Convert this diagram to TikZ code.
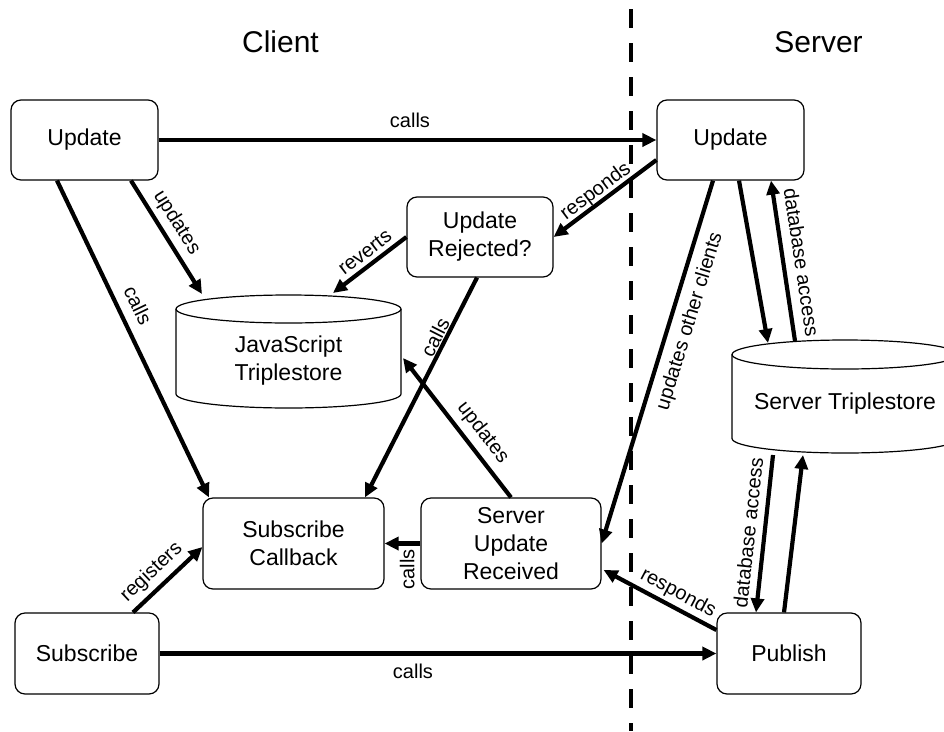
\documentclass[tikz,border=0pt]{standalone}
\usepackage{fontspec}
\setmainfont{Liberation Sans}
\usetikzlibrary{arrows.meta,calc}
\begin{document}
\begin{tikzpicture}[x=1pt,y=-1pt,
  box/.style={draw, line width=1.2pt, rounded corners=10pt, align=center, font=\fontsize{23}{28}\selectfont, inner sep=0pt},
  arr/.style={line width=4.2pt, -{Triangle[length=14pt,width=13pt]}},
  lbl/.style={font=\fontsize{20}{24}\selectfont, outer sep=0pt, sloped},
  vlbl/.style={font=\fontsize{20}{24}\selectfont, outer sep=0pt},
  cyl/.style={line width=1.2pt},
  cyltext/.style={align=center, font=\fontsize{23}{28}\selectfont, inner sep=0pt},
  ttl/.style={font=\fontsize{30}{36}\selectfont}]
\useasboundingbox (0,0) rectangle (944,731);

% titles
\node[ttl] (tclient) at (280.5,42) {Client};
\node[ttl] (tserver) at (818.5,42) {Server};

% divider
\draw[line width=4.5pt, dash pattern=on 19pt off 15pt] (631,9) -- (631,731);

% boxes
\node[box, minimum width=147pt, minimum height=80pt] (cu) at (84.5,140) {Update};
\node[box, minimum width=147pt, minimum height=80pt] (su) at (730.5,140) {Update};
\node[box, minimum width=146pt, minimum height=80pt] (ur) at (480,237) {Update\\Rejected?};
\node[box, minimum width=181pt, minimum height=91pt] (sc) at (293.5,543.5) {Subscribe\\Callback};
\node[box, minimum width=180pt, minimum height=91pt] (sur) at (511,543.5) {Server\\Update\\Received};
\node[box, minimum width=144pt, minimum height=81pt] (sb) at (87,653.5) {Subscribe};
\node[box, minimum width=144pt, minimum height=81pt] (pb) at (789,653.5) {Publish};

% JavaScript triplestore cylinder
\draw[cyl] (176,309) -- (176,394) arc[start angle=180,end angle=360,x radius=112.5pt,y radius=14pt] -- (401,309);
\draw[cyl] (288.5,309) ellipse[x radius=112.5pt,y radius=14pt];
\node[cyltext] (js) at (288.5,361) {JavaScript\\Triplestore};

% Server triplestore cylinder (cut by the right edge)
\begin{scope}
\clip (0,0) rectangle (944,731);
\draw[cyl] (732,354.5) -- (732,438.5) arc[start angle=180,end angle=360,x radius=113pt,y radius=14.5pt] -- (958,354.5);
\draw[cyl] (845,354.5) ellipse[x radius=113pt,y radius=14.5pt];
\end{scope}
\node[cyltext] (st) at (845,404) {Server Triplestore};

% connectors
\draw[arr] (cu.east) -- node[lbl, above, pos=0.505, inner sep=12pt] {calls} (su.west);
\draw[arr] ($(cu.south)+(46.5,0)$) -- node[lbl, above, pos=0.447, inner sep=7pt] {updates} ($(js.center)+(-86.5,-67)$);
\draw[arr] ($(cu.south)+(-27.5,0)$) -- node[lbl, above, pos=0.419, inner sep=12pt] {calls} ($(sc.north)+(-84.5,0)$);
\draw[arr] ($(su.west)+(0,20)$) -- node[lbl, above, pos=0.526, inner sep=1.5pt] {responds} (ur.east);
\draw[arr] (ur.west) -- node[lbl, above, pos=0.458, inner sep=6.5pt] {reverts} ($(js.center)+(44.5,-68)$);
\draw[arr] ($(ur.south)+(-3,0)$) -- node[lbl, above, pos=0.293, inner sep=3pt] {calls} ($(sc.north)+(71.5,0)$);
\draw[arr] (sur.north) -- node[lbl, above, pos=0.388, inner sep=8pt] {updates} ($(js.center)+(114.5,-3)$);
\draw[arr] (sur.west) -- node[vlbl, rotate=90, anchor=east, pos=0.365, inner sep=6pt] {calls} (sc.east);
\draw[arr] ($(su.south)+(-17.5,0)$) -- node[lbl, below, pos=0.372, inner sep=10pt] {updates other clients} (sur.east);
\draw[arr] ($(su.south)+(8.5,0)$) -- ($(st.center)+(-77,-61)$);
\draw[arr] ($(st.center)+(-50,-63)$) -- node[lbl, above, pos=0.474, inner sep=11pt] {database access} ($(su.south)+(40.5,0)$);
\draw[arr] ($(st.center)+(-72,51)$) -- node[lbl, above, pos=0.505, inner sep=9pt] {database access} ($(pb.north)+(-33,0)$);
\draw[arr] ($(pb.north)+(-5,0)$) -- ($(st.center)+(-42,51)$);
\draw[arr] ($(pb.west)+(0,-23.5)$) -- node[lbl, above, pos=0.40, inner sep=5pt] {responds} ($(sur.east)+(2,26.5)$);
\draw[arr] ($(sb.north)+(46,0)$) -- node[lbl, above, pos=0.43, inner sep=7pt] {registers} ($(sc.west)+(0,3.5)$);
\draw[arr] (sb.east) -- node[lbl, below, pos=0.455, inner sep=10pt] {calls} (pb.west);
\end{tikzpicture}
\end{document}
